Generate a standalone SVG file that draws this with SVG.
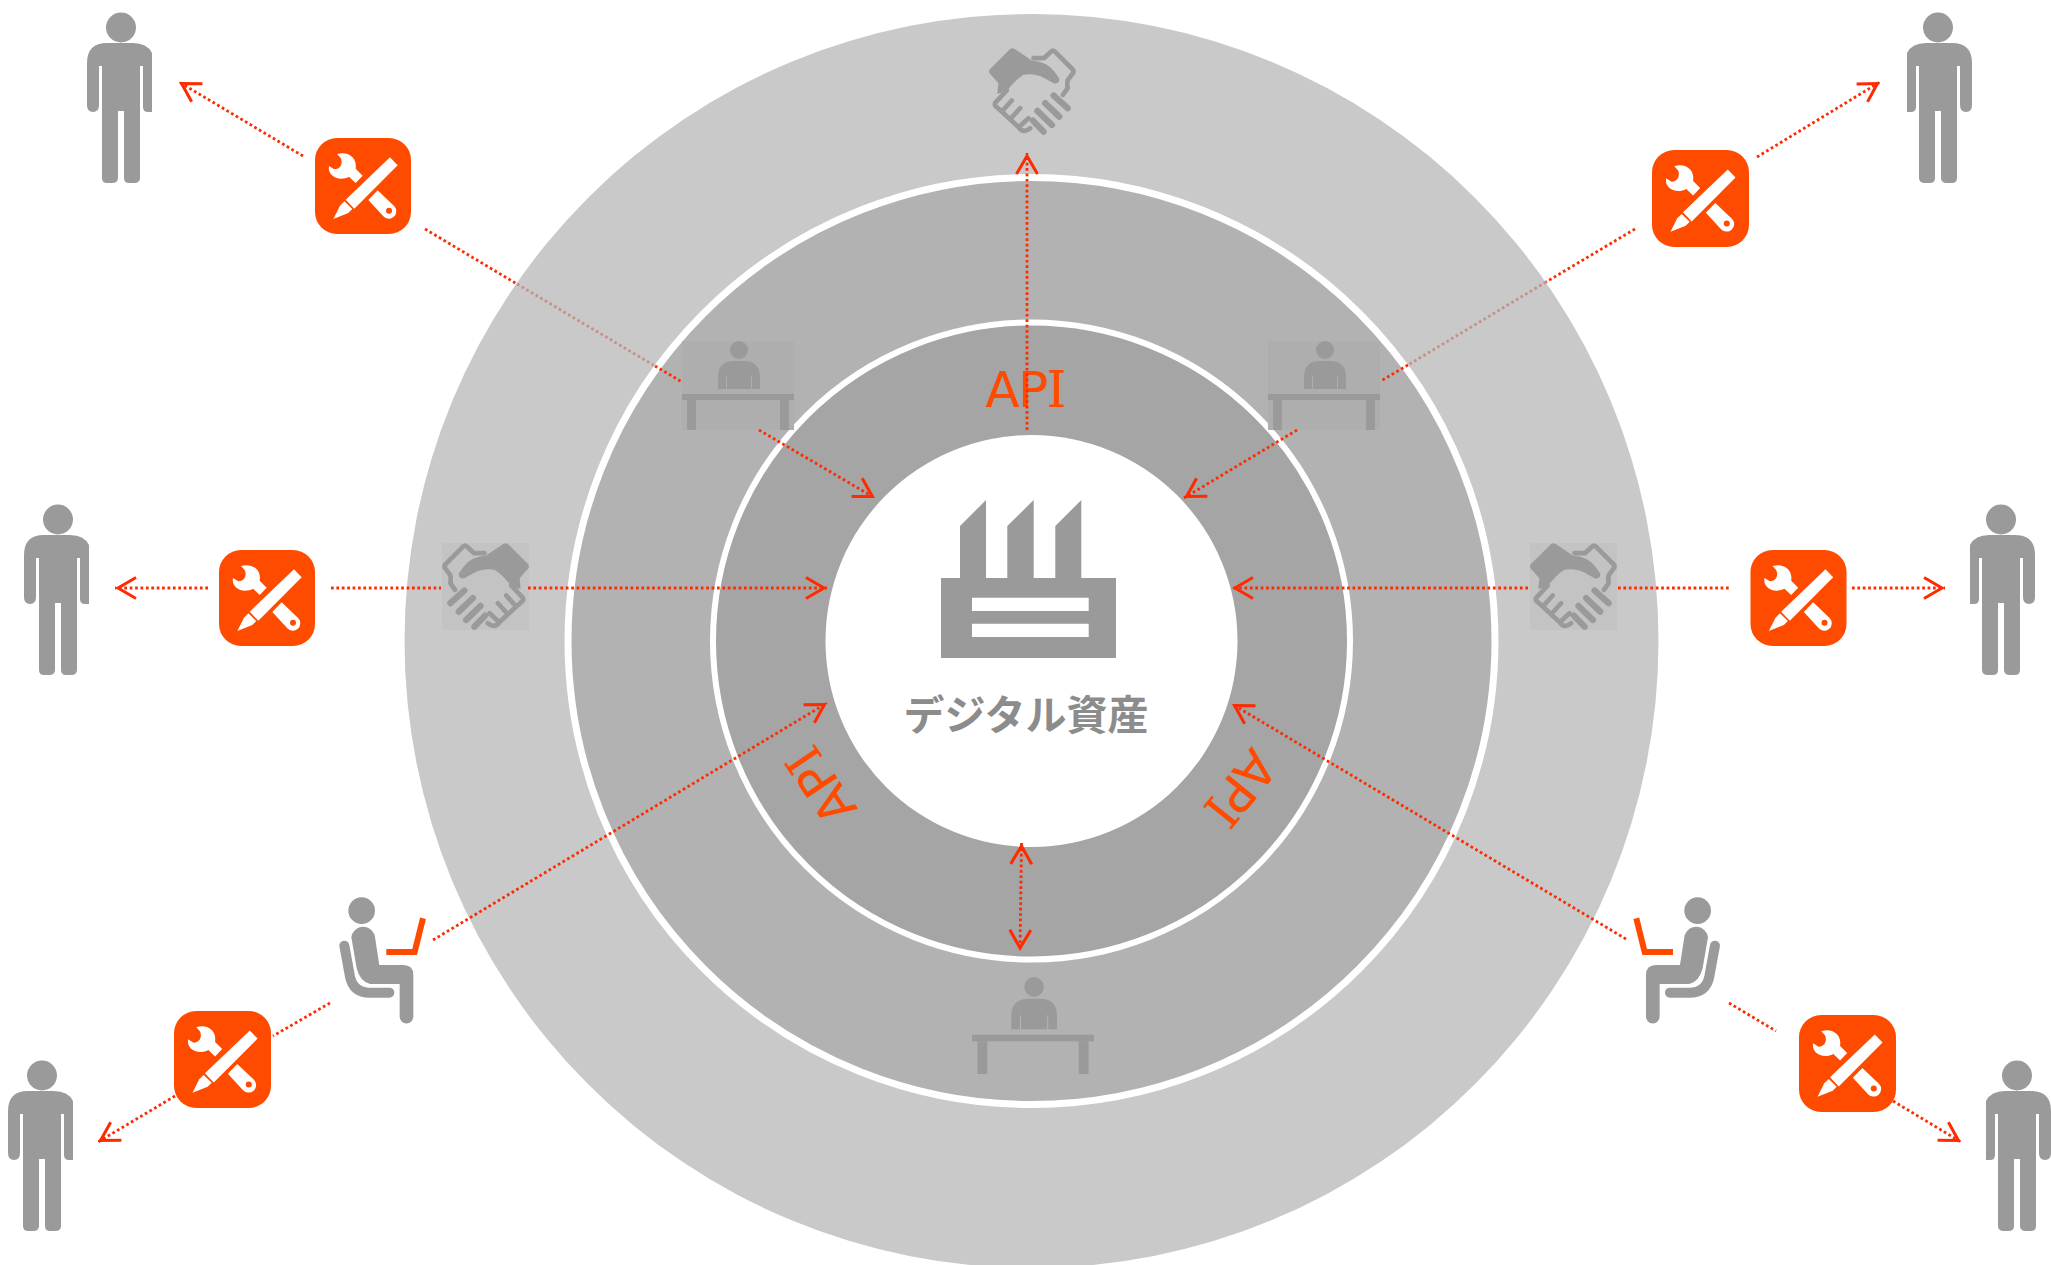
<svg xmlns="http://www.w3.org/2000/svg" width="2051" height="1265" viewBox="0 0 2051 1265">
<style>
.ic{fill:#9a9a9a}
.c{fill:none;stroke:#ff2a00;stroke-width:2.8;stroke-dasharray:2.7 2.7}
.m{stroke:#c9908a}
.a{marker-end:url(#ah)}
.api{font-family:"DejaVu Sans",sans-serif;font-size:50px;fill:#ff4b00;text-anchor:middle;letter-spacing:-1.5px}
.ser{font-family:"DejaVu Serif",serif}
</style>
<defs>
<marker id="ah" markerUnits="userSpaceOnUse" markerWidth="30" markerHeight="30" viewBox="-25 -15 30 30" refX="3" refY="0" orient="auto-start-reverse">
<path d="M-18,-10.5 L0,0 L-18,10.5" fill="none" stroke="#ff2a00" stroke-width="3"/>
</marker>
<symbol id="person" viewBox="0 0 65 170" overflow="visible">
<circle class="ic" cx="34" cy="14.5" r="15"/>
<path class="ic" d="M0,50 Q0,30 20,30 L46,30 Q60,30 65,40 L65,99 L61,99 Q56,99 56,94 L56,53 L53,53 L53,165 Q53,170 47,170 L42,170 Q37,170 37,165 L37,98 L31,98 L31,165 Q31,170 25,170 L20,170 Q15,170 15,165 L15,53 L12,53 L12,92 Q12,99 6,99 Q0,99 0,92 Z"/>
</symbol>
<symbol id="tool" viewBox="0 0 288 288">
<rect width="288" height="288" rx="66" fill="#ff4b00"/>
<path fill="#fff" d="M66,48 C98,38 128,58 122,92 L143,113 L122,135 L102,116 C72,132 36,114 42,84 L58,94 Q70,94 77,84 Q83,72 77,60 Z"/>
<path fill="#fff" d="M188,157 L238,205 A22,22 0 0 1 205,235 L160,186 Z"/>
<circle cx="222" cy="218" r="9" fill="#ff4b00"/>
<path fill="#fff" d="M225,58 L248,82 L118,212 L92,185 Z"/>
<path fill="#fff" d="M55,243 L75,203 L88,190 L112,213 L100,225 Z"/>
</symbol>
<symbol id="shake" viewBox="87 55 260 260">
<path class="ic" d="M150,58 Q157,53 164,58 L215,92 Q262,96 282,125 L297,146 Q298,164 280,160 L252,145 Q225,130 190,135 Q165,150 137,188 L112,192 L115,160 L90,132 Q84,125 90,118 Z"/>
<g fill="none" stroke="#9a9a9a" stroke-linecap="round" stroke-linejoin="round">
<path stroke-width="14" d="M220,85 L252,85 L272,66 Q278,60 284,66 L338,120 Q342,126 336,132 L322,152 Q320,160 322,175 L308,195"/>
<path stroke-width="14" d="M140,182 L106,218 Q102,224 108,230 L125,245 L155,212 M125,245 L150,268 L180,235 M150,268 L176,292 L205,265 M176,292 Q190,312 210,295"/>
<path stroke-width="19" d="M280,197 L322,235 M255,220 L297,260 M232,243 L275,285 M218,272 L250,305"/>
</g>
</symbol>
<symbol id="desk" viewBox="0 0 112 89">
<circle class="ic" cx="57" cy="9" r="9"/>
<path class="ic" d="M36,48 L36,36 Q36,20 52,20 L62,20 Q78,20 78,36 L78,48 L70,48 L70,35 L69,35 L69,48 L45,48 L45,35 L44,35 L44,48 Z"/>
<rect class="ic" x="0" y="53" width="112" height="6"/>
<rect class="ic" x="5" y="59" width="9" height="30"/>
<rect class="ic" x="98" y="59" width="9" height="30"/>
</symbol>
<symbol id="seat" viewBox="0 0 130 160" overflow="visible">
<circle class="ic" cx="125" cy="92" r="40"/>
<path class="ic" d="M94,172 A36,36 0 0 1 164,165 L178,255 L250,255 Q280,255 280,285 L280,410 A20,20 0 0 1 239,410 L239,312 L150,312 Q120,305 110,265 Z"/>
<path fill="none" stroke="#9a9a9a" stroke-width="30" stroke-linecap="round" d="M73,197 L90,290 Q100,338 150,338 L208,338"/>
<path fill="none" stroke="#ff4b00" stroke-width="18" d="M199,216 L284,216 L309,115"/>
</symbol>
</defs>

<g id="rings">
<circle cx="1031.5" cy="641" r="627" fill="#c9c9c9"/>
<circle cx="1031.5" cy="641" r="463.5" fill="#b2b2b2" stroke="#fff" stroke-width="7"/>
<circle cx="1031.5" cy="641" r="318.5" fill="#a5a5a5" stroke="#fff" stroke-width="6"/>
<circle cx="1031.5" cy="641" r="206" fill="#fff"/>
</g>

<g id="api-labels">
<text class="api" x="1025" y="407">AP<tspan class="ser">I</tspan></text>
<text class="api" transform="translate(821,786) rotate(236)" y="18">AP<tspan class="ser">I</tspan></text>
<text class="api" transform="translate(1241,788) rotate(129)" y="18">AP<tspan class="ser">I</tspan></text>
</g>

<g id="factory">
<path class="ic" fill-rule="evenodd" d="M941,578 L960,578 L960,526 L986,500 L986,578 L1007.3,578 L1007.3,526 L1033.7,500 L1033.7,578 L1055.3,578 L1055.3,526 L1081.3,500 L1081.3,578 L1116,578 L1116,658 L941,658 Z M972,597.7 L972,611 L1088.7,611 L1088.7,597.7 Z M972,623.7 L972,637 L1088.7,637 L1088.7,623.7 Z"/>
<text x="1026" y="730" font-family="'Noto Sans CJK JP','Noto Sans',sans-serif" font-size="41" font-weight="700" fill="#8c8c8c" text-anchor="middle">デジタル資産</text>
</g>

<g id="handshake-top"><use href="#shake" x="989" y="48" width="87" height="87"/></g>
<g id="handshake-left"><rect x="442" y="543" width="87" height="87" fill="#c3c3c3"/><use href="#shake" transform="translate(971,0) scale(-1,1)" x="442" y="543" width="87" height="87"/></g>
<g id="handshake-right"><rect x="1530" y="543" width="87" height="87" fill="#c3c3c3"/><use href="#shake" x="1530" y="543" width="87" height="87"/></g>

<g id="desk-left"><rect x="682" y="341" width="112" height="89" fill="#aeaeae"/><use href="#desk" x="682" y="341" width="112" height="89"/></g>
<g id="desk-right"><rect x="1268" y="341" width="112" height="89" fill="#aeaeae"/><use href="#desk" x="1268" y="341" width="112" height="89"/></g>
<g id="desk-bottom"><use href="#desk" x="972" y="977" width="122" height="97"/></g>

<g id="seat-left"><use href="#seat" transform="translate(320,880) scale(0.3333)" width="130" height="160" style="overflow:visible"/></g>
<g id="seat-right"><use href="#seat" transform="translate(1739.3,880) scale(-0.3333,0.3333)" width="130" height="160" style="overflow:visible"/></g>

<g id="person-1"><use href="#person" x="87" y="13" width="65" height="170"/></g>
<g id="person-2"><use href="#person" transform="translate(1972,13) scale(-1,1)" width="65" height="170"/></g>
<g id="person-3"><use href="#person" x="24" y="505" width="65" height="170"/></g>
<g id="person-4"><use href="#person" transform="translate(2035,505) scale(-1,1)" width="65" height="170"/></g>
<g id="person-5"><use href="#person" x="8" y="1061" width="65" height="170"/></g>
<g id="person-6"><use href="#person" transform="translate(2051,1061) scale(-1,1)" width="65" height="170"/></g>

<g id="tool-1"><use href="#tool" x="315" y="138" width="96" height="96"/></g>
<g id="tool-2"><use href="#tool" x="1652" y="150" width="97" height="97"/></g>
<g id="tool-3"><use href="#tool" x="219" y="550" width="96" height="96"/></g>
<g id="tool-4"><use href="#tool" x="1750" y="550" width="97" height="96"/></g>
<g id="tool-5"><use href="#tool" x="174" y="1011" width="97" height="97"/></g>
<g id="tool-6"><use href="#tool" x="1799" y="1015" width="97" height="97"/></g>

<g id="connectors">
<line class="c a" x1="303" y1="156" x2="179" y2="82"/>
<line class="c" x1="425" y1="229" x2="517" y2="284"/>
<line class="c m" x1="517" y1="284" x2="655" y2="366"/>
<line class="c" x1="655" y1="366" x2="682" y2="382"/>
<line class="c a" x1="759" y1="430" x2="875" y2="498"/>
<line class="c a" x1="1027" y1="430" x2="1027" y2="153"/>
<line class="c a" x1="1757" y1="157" x2="1880" y2="82"/>
<line class="c" x1="1635" y1="229" x2="1546" y2="282"/>
<line class="c m" x1="1546" y1="282" x2="1408" y2="365"/>
<line class="c" x1="1408" y1="365" x2="1381" y2="381"/>
<line class="c a" x1="1297" y1="430" x2="1184" y2="498"/>
<line class="c a" x1="208" y1="588" x2="115" y2="588"/>
<line class="c" x1="331" y1="588" x2="441" y2="588"/>
<line class="c a" x1="528" y1="588" x2="827" y2="588"/>
<line class="c a" x1="1528" y1="588" x2="1232" y2="588"/>
<line class="c" x1="1618" y1="588" x2="1729" y2="588"/>
<line class="c a" x1="1852" y1="588" x2="1945" y2="588"/>
<line class="c a" x1="433" y1="940" x2="827" y2="703"/>
<line class="c" x1="330" y1="1003" x2="273" y2="1036"/>
<line class="c a" x1="175" y1="1096" x2="98" y2="1142"/>
<line class="c a" x1="1626" y1="939" x2="1232" y2="704"/>
<line class="c" x1="1729" y1="1003" x2="1776" y2="1031"/>
<line class="c a" x1="1893" y1="1101" x2="1961" y2="1142"/>
<line class="c a" x1="1021.5" y1="843" x2="1020" y2="951" marker-start="url(#ah)"/>
</g>
</svg>
